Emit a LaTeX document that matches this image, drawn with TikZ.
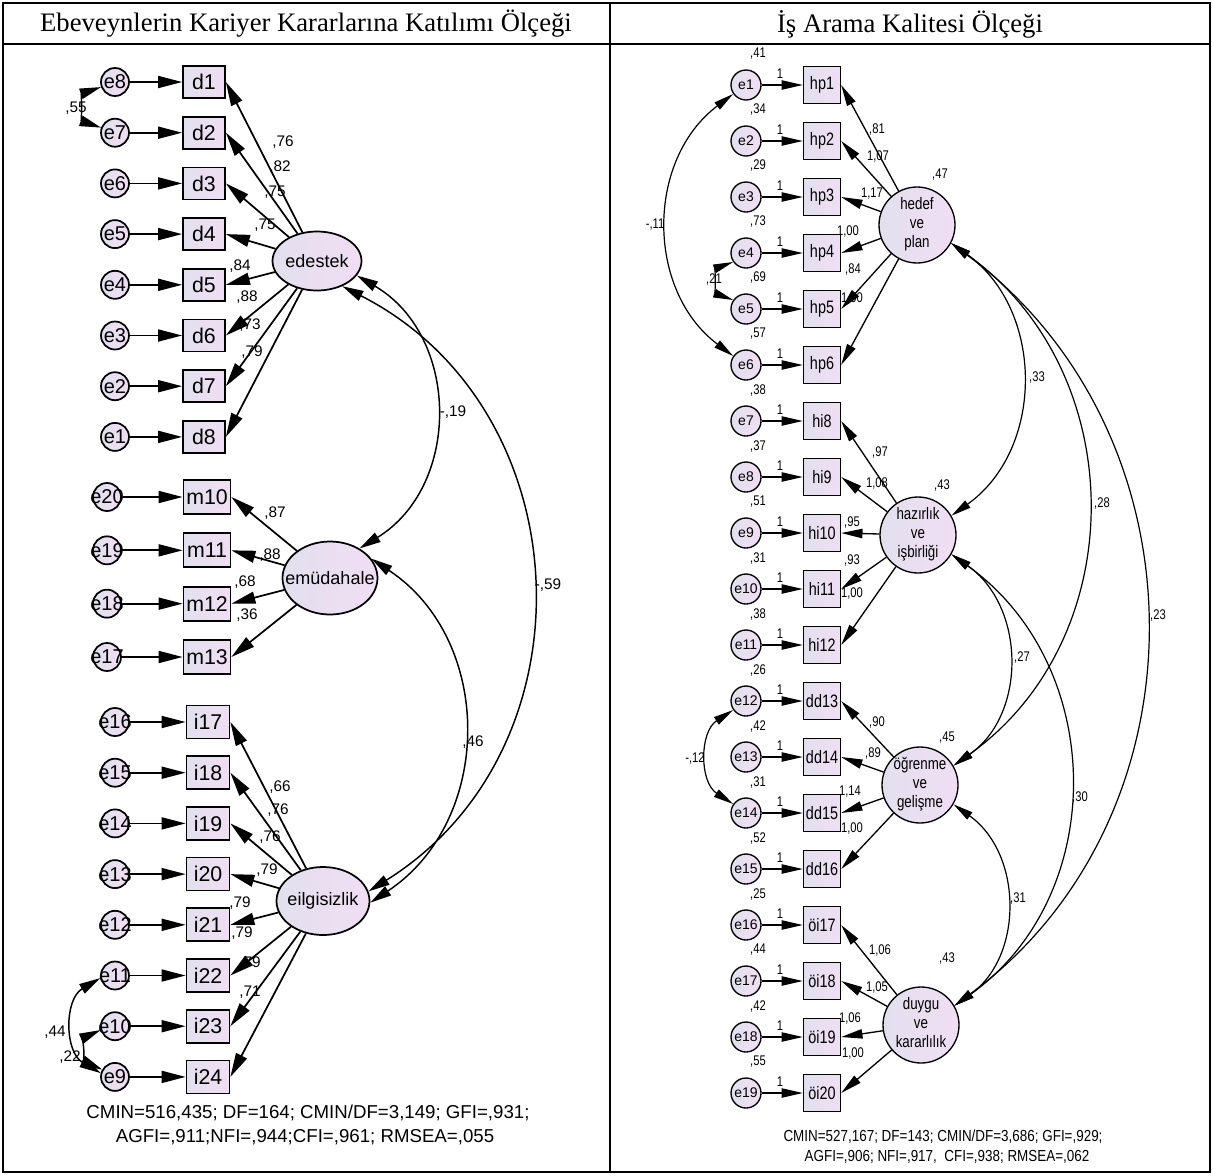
\documentclass[tikz,border=0pt]{standalone}
\usepackage{fontspec}
\setmainfont{Liberation Serif}
\setsansfont{Liberation Sans}
\usepackage{graphicx}
\usetikzlibrary{arrows.meta,shapes.geometric}
\newcommand{\sq}[1]{\scalebox{0.8}[1]{#1}}
\newcommand{\zb}[1]{\makebox[0pt][c]{#1}}
\definecolor{nodeL}{RGB}{226,224,238}
\definecolor{nodeR}{RGB}{241,222,244}
\begin{document}
\begin{tikzpicture}[x=0.75pt,y=0.75pt,
  base/.style={draw=black,left color=nodeL,right color=nodeR,inner sep=0pt,font=\sffamily},
  lerr/.style={base,circle,minimum size=21pt,line width=1.3pt,font=\sffamily\fontsize{15}{18}\selectfont},
  lbox/.style={base,rectangle,minimum width=31.5pt,minimum height=24pt,line width=1.3pt,font=\sffamily\fontsize{16}{19}\selectfont},
  mbox/.style={lbox,minimum width=35.25pt,minimum height=25.5pt},
  ibox/.style={lbox,minimum width=32.25pt,minimum height=24.75pt},
  llat/.style={base,ellipse,line width=1.3pt,font=\sffamily\fontsize{13.5}{16}\selectfont},
  larr/.style={line width=1.3pt,-{Triangle[length=18pt,width=9pt]}},
  lcov/.style={line width=1.1pt,{Triangle[length=16pt,width=8pt]}-{Triangle[length=16pt,width=8pt]}},
  lnum/.style={font=\sffamily\fontsize{11.5}{13}\selectfont,inner sep=0pt},
  rerr/.style={base,circle,minimum size=22.5pt,line width=1pt,font=\sffamily\fontsize{10.5}{13}\selectfont},
  rbox/.style={base,rectangle,minimum size=27.75pt,line width=1pt,font=\sffamily\fontsize{13.5}{16}\selectfont},
  rlat/.style={base,circle,minimum size=57pt,line width=1pt,font=\sffamily\fontsize{12.5}{14.25}\selectfont},
  rarr/.style={line width=1pt,-{Triangle[length=16pt,width=7pt]}},
  rcov/.style={line width=0.9pt,{Triangle[length=15pt,width=6.5pt]}-{Triangle[length=15pt,width=6.5pt]}},
  rnum/.style={font=\sffamily\fontsize{10.5}{12}\selectfont,inner sep=0pt},
  head/.style={font=\fontsize{20}{24}\selectfont,inner sep=0pt}
]
\fill[white] (0,0) rectangle (1213,-1175);
\useasboundingbox (0,0) rectangle (1213,-1175);

% ---------------- table ----------------
\draw[line width=1.5pt] (3,-3) rectangle (1210,-1172);
\draw[line width=1.2pt] (3,-44) -- (1210,-44);
\draw[line width=1.2pt] (610,-3) -- (610,-1172);
\node[head] (h1) at (306,-24) {Ebeveynlerin Kariyer Kararlarına Katılımı Ölçeği};
\node[head] (h2) at (910,-24) {İş Arama Kalitesi Ölçeği};

% ---------------- left labels ----------------
\foreach \x/\y/\t [count=\n] in {283/142/{,76},280/167/{,82},275/192/{,75},265/225/{,75},240/266/{,84},247/297/{,88},250/325/{,73},252/352/{,79},
  275/513/{,87},270/555/{,88},245/582/{,68},247/615/{,36},
  280/787/{,66},278/810/{,76},270/837/{,76},267/870/{,79},240/903/{,79},242/933/{,79},250/963/{,79},250/992/{,71},
  76/108/{,55},55/1032/{,44},70/1057/{,22},453/412/{-,19},548/585/{-,59},473/742/{,46}}
  \node[lnum] (ln\n) at (\x,-\y) {\t};

% ---------------- left: edestek ----------------
\foreach \k/\e in {1/8,2/7,3/6,4/5,5/4,6/3,7/2,8/1} {
  \pgfmathsetmacro\yy{-(82+50.7*(\k-1))}
  \node[lerr] (Le\e) at (115,\yy) {\zb{e\e}};
  \node[lbox] (Ld\k) at (204,\yy) {\zb{d\k}};
  \draw[larr] (Le\e) -- (Ld\k);
}
\node[llat,minimum width=66.75pt,minimum height=44.25pt] (edestek) at (317,-261) {\zb{edestek}};
\foreach \k in {1,...,8} \draw[larr] (edestek) -- (Ld\k.east);

% ---------------- left: emudahale ----------------
\foreach \k/\e in {10/20,11/19,12/18,13/17} {
  \pgfmathsetmacro\yy{-(497+53.33*(\k-10))}
  \node[lerr] (Le\e) at (107,\yy) {\zb{e\e}};
  \node[mbox] (Lm\k) at (207,\yy) {\zb{m\k}};
  \draw[larr] (Le\e) -- (Lm\k);
}
\node[llat,minimum width=71.25pt,minimum height=54.75pt] (emud) at (330,-578) {\zb{emüdahale}};
\foreach \k in {10,...,13} \draw[larr] (emud) -- (Lm\k.east);

% ---------------- left: eilgisizlik ----------------
\foreach \k/\e in {17/16,18/15,19/14,20/13,21/12,22/11,23/10,24/9} {
  \pgfmathsetmacro\yy{-(722+50.7*(\k-17))}
  \node[lerr] (Le\e) at (115,\yy) {\zb{e\e}};
  \node[ibox] (Li\k) at (208,\yy) {\zb{i\k}};
  \draw[larr] (Le\e) -- (Li\k);
}
\node[llat,minimum width=69.75pt,minimum height=51pt] (eilg) at (323,-901) {\zb{eilgisizlik}};
\foreach \k in {17,...,24} \draw[larr] (eilg) -- (Li\k.east);

% left covariances
\draw[lcov] (edestek.-20) to[out=-30.4,in=31.6,looseness=1.12] (emud.45);
\draw[lcov] (edestek.-45) to[out=-27,in=32,looseness=1.14] (eilg.12);
\draw[lcov] (emud.25) to[out=-33.6,in=33.6,looseness=1.1] (eilg.-2);
\draw[lcov] (Le8.200) to[out=-161.5,in=161.5,looseness=1.29] (Le7.160);
\draw[lcov] (Le11.190) to[out=-149.6,in=149.6,looseness=1.13] (Le9.165);
\draw[lcov] (Le10.195) to[out=-156,in=156,looseness=1.21] (Le9.150);

\node[font=\sffamily\fontsize{14}{16}\selectfont,inner sep=0pt] (fitL1) at (308,-1113) {CMIN=516,435; DF=164; CMIN/DF=3,149; GFI=,931;};
\node[font=\sffamily\fontsize{14}{16}\selectfont,inner sep=0pt] (fitL2) at (305,-1137) {AGFI=,911;NFI=,944;CFI=,961; RMSEA=,055};

% ---------------- right labels ----------------
\foreach \x/\y/\t [count=\n] in {877/130/{,81},878/157/{1,07},872/194/{1,17},848/232/{1,00},853/270/{,84},852/299/{1,00},
  880/452/{,97},877/483/{1,08},852/522/{,95},852/560/{,93},852/593/{1,00},
  877/722/{,90},873/753/{,89},850/792/{1,14},852/828/{1,00},
  880/950/{1,06},877/987/{1,05},850/1018/{1,06},853/1053/{1,00},
  940/175/{,47},942/485/{,43},947/738/{,45},947/958/{,43},
  655/225/{-,11},714/280/{,21},695/758/{-,12},1037/378/{,33},1102/503/{,28},1158/615/{,23},1022/657/{,27},1080/797/{,30},1018/898/{,31}}
  \node[rnum] (rn\n) at (\x,-\y) {\sq{\t}};

% ---------------- right: indicators ----------------
\foreach \k/\b/\v in {1/hp1/{,41},2/hp2/{,34},3/hp3/{,29},4/hp4/{,73},5/hp5/{,69},6/hp6/{,57},
  7/hi8/{,38},8/hi9/{,37},9/hi10/{,51},10/hi11/{,31},11/hi12/{,38},
  12/dd13/{,26},13/dd14/{,42},14/dd15/{,31},15/dd16/{,52},
  16/öi17/{,25},17/öi18/{,44},18/öi19/{,42},19/öi20/{,55}} {
  \pgfmathsetmacro\yy{-(85+56*(\k-1))}
  \node[rnum] (Rv\k) at (758,\yy+31) {\sq{\v}};
  \node[rnum] (Ro\k) at (780,\yy+11) {\sq{1}};
  \node[rerr] (Re\k) at (746,\yy) {\zb{e\k}};
  \node[rbox] (Rb\k) at (822,\yy) {\zb{\sq{\b}}};
  \draw[rarr] (Re\k) -- (Rb\k);
}
\node[rlat] (hedef) at (917,-225) {\zb{\sq{\begin{tabular}{@{}c@{}}hedef\\ve\\plan\end{tabular}}}};
\node[rlat] (hazir) at (918,-535) {\zb{\sq{\begin{tabular}{@{}c@{}}hazırlık\\ve\\işbirliği\end{tabular}}}};
\node[rlat] (ogren) at (920,-785) {\zb{\sq{\begin{tabular}{@{}c@{}}öğrenme\\ve\\gelişme\end{tabular}}}};
\node[rlat] (duygu) at (921,-1025) {\zb{\sq{\begin{tabular}{@{}c@{}}duygu\\ve\\kararlılık\end{tabular}}}};
\foreach \k in {1,...,6} \draw[rarr] (hedef) -- (Rb\k.east);
\foreach \k in {7,...,11} \draw[rarr] (hazir) -- (Rb\k.east);
\foreach \k in {12,...,15} \draw[rarr] (ogren) -- (Rb\k.east);
\foreach \k in {16,...,19} \draw[rarr] (duygu) -- (Rb\k.east);

% right covariances
\draw[rcov] (Re1.215) to[out=-143,in=143,looseness=1.07] (Re6.145);
\draw[rcov] (Re4.215) to[out=-160,in=160,looseness=1.27] (Re5.145);
\draw[rcov] (Re12.215) to[out=-147,in=147,looseness=1.1] (Re14.145);
\draw[rcov] (hedef.-28) to[out=-35.5,in=35.5,looseness=1.08] (hazir.30);
\draw[rcov] (hedef.-28) to[out=-35.5,in=35.5,looseness=1.08] (ogren.30);
\draw[rcov] (hedef.-28) to[out=-36.5,in=36.5,looseness=1.07] (duygu.30);
\draw[rcov] (hazir.-30) to[out=-35,in=35,looseness=1.09] (ogren.30);
\draw[rcov] (hazir.-30) to[out=-35.5,in=35.5,looseness=1.08] (duygu.30);
\draw[rcov] (ogren.-30) to[out=-35.5,in=35.5,looseness=1.08] (duygu.30);

\node[font=\sffamily\fontsize{12}{14}\selectfont,inner sep=0pt] (fitR1) at (943,-1137) {\scalebox{0.84}[1]{CMIN=527,167; DF=143; CMIN/DF=3,686; GFI=,929;}};
\node[font=\sffamily\fontsize{12}{14}\selectfont,inner sep=0pt] (fitR2) at (947,-1157) {\scalebox{0.84}[1]{AGFI=,906; NFI=,917,\ \ CFI=,938; RMSEA=,062}};
\end{tikzpicture}
\end{document}
